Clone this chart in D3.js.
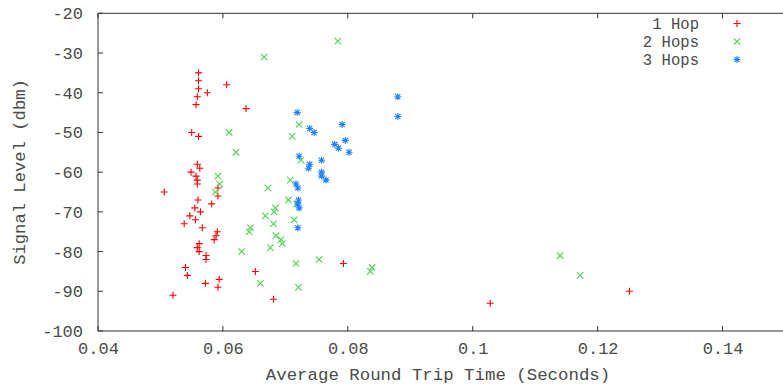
<!DOCTYPE html>
<html>
<head>
<meta charset="utf-8">
<script src="https://cdn.jsdelivr.net/npm/d3@7"></script>
<style>
  body { margin: 0; background: #fff; }
  text { font-family: "Liberation Mono", "DejaVu Sans Mono", monospace; fill: #4a4a4a; }
</style>
</head>
<body>
<svg id="chart" width="783" height="387"></svg>
<script>
// [rtt seconds, signal dbm]
const hop1 = [
  [0.0561, -35], [0.0561, -37], [0.0561, -39], [0.0575, -40], [0.0606, -38],
  [0.0559, -41], [0.0557, -43], [0.0637, -44], [0.0550, -50], [0.0561, -51],
  [0.0559, -58], [0.0563, -59], [0.0549, -60], [0.0557, -61], [0.0559, -62],
  [0.0559, -63], [0.0506, -65], [0.0592, -64], [0.0592, -66], [0.0560, -67],
  [0.0582, -68], [0.0555, -69], [0.0564, -70], [0.0547, -71], [0.0556, -72],
  [0.0538, -73], [0.0567, -74], [0.0591, -75], [0.0589, -76], [0.0586, -77],
  [0.0562, -78], [0.0559, -79], [0.0562, -80], [0.0573, -81], [0.0573, -82],
  [0.0540, -84], [0.0543, -86], [0.0594, -87], [0.0572, -88], [0.0592, -89],
  [0.0652, -85], [0.0520, -91], [0.0681, -92], [0.0793, -83], [0.1028, -93],
  [0.1251, -90]
];
const hop2 = [
  [0.0666, -31], [0.0784, -27], [0.0610, -50], [0.0621, -55], [0.0722, -48],
  [0.0711, -51], [0.0725, -57], [0.0708, -62], [0.0592, -61], [0.0595, -63],
  [0.0672, -64], [0.0588, -65], [0.0705, -67], [0.0718, -68], [0.0684, -69],
  [0.0682, -70], [0.0668, -71], [0.0714, -72], [0.0681, -73], [0.0644, -74],
  [0.0642, -75], [0.0685, -76], [0.0693, -77], [0.0695, -78], [0.0676, -79],
  [0.0630, -80], [0.0717, -83], [0.0754, -82], [0.0660, -88], [0.0721, -89],
  [0.0839, -84], [0.0836, -85], [0.1140, -81], [0.1172, -86]
];
const hop3 = [
  [0.0880, -41], [0.0880, -46], [0.0719, -45], [0.0739, -49], [0.0746, -50],
  [0.0791, -48], [0.0796, -52], [0.0779, -53], [0.0785, -54], [0.0802, -55],
  [0.0722, -56], [0.0758, -57], [0.0739, -58], [0.0737, -59], [0.0758, -60],
  [0.0758, -61], [0.0765, -62], [0.0717, -63], [0.0720, -64], [0.0721, -67],
  [0.0720, -68], [0.0722, -69], [0.0720, -74]
];
const xTicks = [0.04, 0.06, 0.08, 0.1, 0.12, 0.14];
const yTicks = [-20, -30, -40, -50, -60, -70, -80, -90, -100];
const seriesNames = ["1 Hop", "2 Hops", "3 Hops"];
const seriesColors = ["#ff0000", "#4fd24f", "#1e82ff"];
const seriesShapes = ["plus", "cross", "star"];

const svg = d3.select("#chart");
const x = d3.scaleLinear().domain([0.04, 0.15]).range([98, 785]);
const y = d3.scaleLinear().domain([-100, -20]).range([331, 13.3]);
const TICK = 5;
const FS = "17px";

// border
const axisColor = "#333";
svg.append("line").attr("x1", x(0.04)).attr("x2", x(0.04)).attr("y1", y(-20)).attr("y2", y(-100))
  .attr("stroke", axisColor);
svg.append("line").attr("x1", x(0.04)).attr("x2", 785).attr("y1", y(-100)).attr("y2", y(-100))
  .attr("stroke", axisColor);
svg.append("line").attr("x1", x(0.04)).attr("x2", 785).attr("y1", y(-20)).attr("y2", y(-20))
  .attr("stroke", axisColor);

// y axis
const yAxis = d3.axisLeft(y).tickValues(yTicks).tickSize(0).tickPadding(15).tickFormat(d => d);
const gy = svg.append("g").attr("transform", `translate(${x(0.04)},0)`).call(yAxis);
gy.select(".domain").remove();
gy.selectAll("text").style("font-size", FS).style("fill", "#4a4a4a");
yTicks.forEach(t => {
  svg.append("line").attr("x1", x(0.04)).attr("x2", x(0.04) + TICK)
    .attr("y1", y(t)).attr("y2", y(t)).attr("stroke", axisColor);
});

// x axis
const xAxis = d3.axisBottom(x).tickValues(xTicks).tickSize(0).tickPadding(11).tickFormat(d => d);
const gx = svg.append("g").attr("transform", `translate(0,${y(-100)})`).call(xAxis);
gx.select(".domain").remove();
gx.selectAll("text").style("font-size", FS).style("fill", "#4a4a4a");
xTicks.forEach(t => {
  svg.append("line").attr("x1", x(t)).attr("x2", x(t))
    .attr("y1", y(-100)).attr("y2", y(-100) - TICK).attr("stroke", axisColor);
  svg.append("line").attr("x1", x(t)).attr("x2", x(t))
    .attr("y1", y(-20)).attr("y2", y(-20) + TICK).attr("stroke", axisColor);
});

// axis titles
svg.append("text").attr("x", 438).attr("y", 380).attr("text-anchor", "middle")
  .style("font-size", "17.4px").text("Average Round Trip Time (Seconds)");
svg.append("text").attr("transform", "translate(25,172) rotate(-90)").attr("text-anchor", "middle")
  .style("font-size", "17.2px").text("Signal Level (dbm)");

// markers
function drawMarker(g, cx, cy, shape, color) {
  const s = 3.5;
  const p = d3.path();
  if (shape === "plus" || shape === "star") {
    p.moveTo(cx - s, cy); p.lineTo(cx + s, cy);
    p.moveTo(cx, cy - s); p.lineTo(cx, cy + s);
  }
  if (shape === "cross" || shape === "star") {
    const c = shape === "star" ? 2.6 : 3.2;
    p.moveTo(cx - c, cy - c); p.lineTo(cx + c, cy + c);
    p.moveTo(cx - c, cy + c); p.lineTo(cx + c, cy - c);
  }
  g.append("path").attr("d", p.toString()).attr("stroke", color)
    .attr("stroke-width", 1.1).attr("fill", "none");
}

[hop1, hop2, hop3].forEach((data, i) => {
  const g = svg.append("g").attr("class", "series" + i);
  data.forEach(d => drawMarker(g, x(d[0]), y(d[1]), seriesShapes[i], seriesColors[i]));
});

// legend
const legY = [23.5, 41.5, 59.5];
seriesNames.forEach((name, i) => {
  svg.append("text").attr("x", 699).attr("y", legY[i] + 5).attr("text-anchor", "end")
    .style("font-size", "15.6px").text(name);
  drawMarker(svg, 737, legY[i], seriesShapes[i], seriesColors[i]);
});
</script>
</body>
</html>
